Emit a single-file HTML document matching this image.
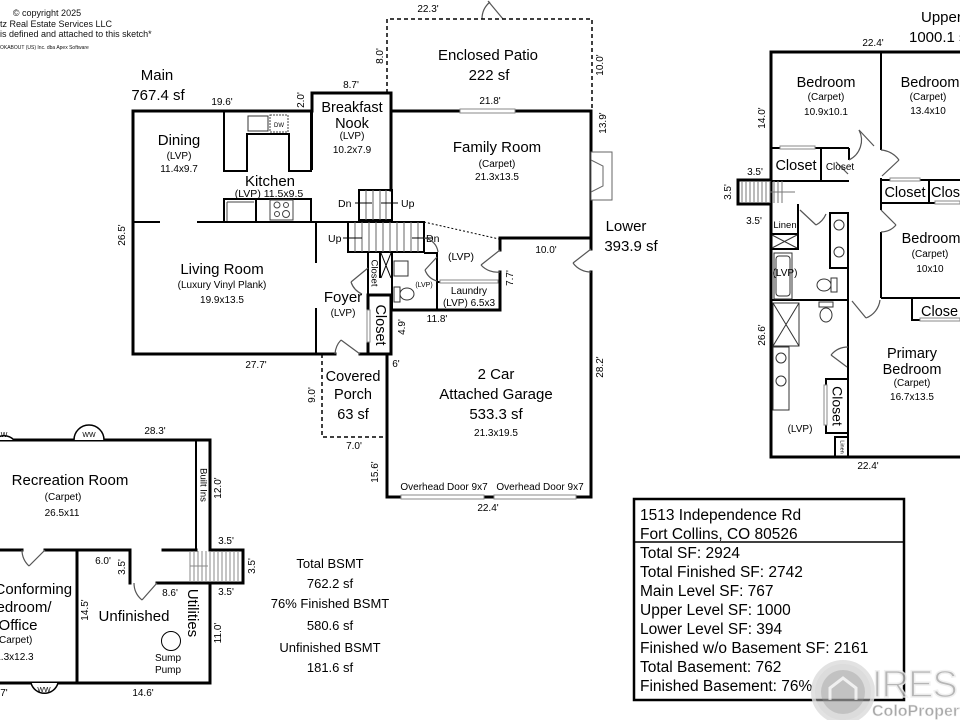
<!DOCTYPE html>
<html><head><meta charset="utf-8"><style>
html,body{margin:0;padding:0;background:#fff;}
svg{display:block;font-family:"Liberation Sans",Arial,sans-serif;}
</style></head><body>
<svg width="960" height="720" viewBox="0 0 960 720" xmlns="http://www.w3.org/2000/svg">
<rect width="960" height="720" fill="#fff"/>

<!-- copyright -->
<g fill="#111">
<text x="47" y="16" font-size="9" text-anchor="middle">© copyright 2025</text>
<text x="0" y="27" font-size="9">tz Real Estate Services LLC</text>
<text x="0" y="37" font-size="9">is defined and attached to this sketch*</text>
<text x="0" y="49" font-size="5">OKABOUT (US) Inc. dba Apex Software</text>
</g>

<!-- ============ MAIN LEVEL ============ -->
<g fill="none" stroke="#000" stroke-width="3" stroke-linecap="square">
<path d="M133,354 L133,111 L312,111 L312,93 L391,93 L391,190"/>
<path d="M391,111 L591,111 L591,249"/>
<path d="M591,272 L591,497 L387,497 L387,354"/>
<path d="M500,238 L591,238"/>
<path d="M500,238 L500,250"/>
<path d="M500,272 L500,310 L391,310"/>
<rect x="368" y="295" width="23" height="59"/>
<path d="M133,354 L335,354 M360,354 L368,354"/>
</g>
<g fill="none" stroke="#000" stroke-width="2">
<path d="M312,93 L312,170"/>
<path d="M133,222 L160,222 M197,222 L348,222"/>
<path d="M316,222 L316,263 M316,308 L316,354"/>
<!-- kitchen upper cabinets -->
<path d="M224,111 L224,171 L247,171 L247,134 L289,134 L289,171 L311,171 L311,111"/>
<!-- lower counter -->
<path d="M224,222 L224,199 L311,199 L311,222 M256,199 L256,222"/>
<!-- small stair -->
<rect x="359" y="190" width="33" height="30"/>
<!-- lower stair -->
<rect x="348" y="222" width="76" height="30"/>
<path d="M368,252 L368,295 M380,252 L380,278 M392,252 L392,310 M424,253 L437,253 L437,282 L500,282 M437,282 L437,310"/>
</g>
<!-- stair treads -->
<g stroke="#666" stroke-width="1">
<path d="M366,190V220 M373,190V220 M380,190V220 M386,190V220"/>
<path d="M355,222V252 M362,222V252 M369,222V252 M376,222V252 M383,222V252 M390,222V252 M397,222V252 M404,222V252 M411,222V252 M418,222V252"/>
</g>
<!-- stair arrows -->
<g stroke="#000" stroke-width="1" fill="none">
<path d="M355,203 L372,203 M398,203 L381,203 M343,238 L362,238 M432,238 L412,238"/>
</g>
<g fill="#000" font-size="10.5">
<text x="338" y="207">Dn</text>
<text x="401" y="207">Up</text>
<text x="328" y="242">Up</text>
<text x="426" y="242">Dn</text>
</g>
<!-- dotted -->
<path d="M424,222 L499,239" stroke="#000" stroke-width="1" stroke-dasharray="2,2"/>
<!-- X under stairs -->
<path d="M381,253 L391,278 M391,253 L381,278" stroke="#000" stroke-width="1"/>
<!-- sink, toilet -->
<rect x="394" y="261" width="14" height="15" fill="none" stroke="#333" stroke-width="1"/>
<rect x="394" y="287" width="6" height="15" fill="none" stroke="#333" stroke-width="1"/>
<ellipse cx="407" cy="294" rx="7" ry="6" fill="none" stroke="#333" stroke-width="1"/>
<!-- kitchen sink & DW -->
<rect x="248" y="116" width="20" height="15" fill="none" stroke="#333" stroke-width="1"/>
<rect x="270" y="115" width="18" height="17" fill="none" stroke="#444" stroke-width="1" stroke-dasharray="2,1"/>
<text x="279" y="127" font-size="6" text-anchor="middle">DW</text>
<!-- range -->
<rect x="270" y="200" width="23" height="20" fill="none" stroke="#444" stroke-width="1"/>
<circle cx="277" cy="205" r="3" fill="none" stroke="#444"/><circle cx="286" cy="205" r="2.5" fill="none" stroke="#444"/>
<circle cx="277" cy="214" r="2.5" fill="none" stroke="#444"/><circle cx="286" cy="214" r="3.5" fill="none" stroke="#444"/>
<path d="M227,202 L254,202 M227,202 L227,221" stroke="#444" stroke-width="1" fill="none"/>
<!-- window family -->
<rect x="460" y="109" width="55" height="4" fill="#fff" stroke="#888" stroke-width="1"/>
<!-- fireplace -->
<rect x="591" y="152" width="21" height="48" fill="#fff" stroke="#666" stroke-width="1"/>
<path d="M591,160 L603,166 L603,186 L591,192" fill="none" stroke="#666" stroke-width="1"/>
<!-- closet sliding -->
<rect x="367" y="310" width="3" height="32" fill="#fff" stroke="#888" stroke-width="1"/>
<!-- laundry sliding -->
<rect x="440" y="280" width="58" height="3" fill="#fff" stroke="#888" stroke-width="1"/>
<!-- doors main -->
<g fill="none" stroke="#555" stroke-width="1.2">
<path d="M360,354 L341,340"/><path d="M341,340 A22,22 0 0 0 335,354"/>
<path d="M368,268 L351,282"/><path d="M351,282 A20,20 0 0 0 362,294"/>
<path d="M437,257 L425,270"/><path d="M425,270 A18,18 0 0 0 437,281"/>
<path d="M500,250 L481,265"/><path d="M481,265 A22,22 0 0 0 500,272"/>
<path d="M591,249 L573,263"/><path d="M573,263 A22,22 0 0 0 591,272"/>
<path d="M424,238 A16,16 0 0 1 438,252"/>
<path d="M503,19 L488,1"/><path d="M482,19 A22,22 0 0 1 490,2"/>
</g>
<!-- patio dashed -->
<path d="M387,93 L387,19 L592,19 L592,111" fill="none" stroke="#000" stroke-width="1.5" stroke-dasharray="4,3"/>
<!-- porch dashed -->
<path d="M322,354 L322,437 L387,437" fill="none" stroke="#000" stroke-width="1.5" stroke-dasharray="4,3"/>
<!-- overhead doors -->
<rect x="401" y="495" width="83" height="4" fill="#fff" stroke="#888" stroke-width="1"/>
<rect x="494" y="495" width="82" height="4" fill="#fff" stroke="#888" stroke-width="1"/>

<!-- main labels -->
<g fill="#000" text-anchor="middle">
<text x="157" y="80" font-size="15">Main</text>
<text x="158" y="100" font-size="15">767.4 sf</text>
<text x="488" y="60" font-size="15">Enclosed Patio</text>
<text x="489" y="80" font-size="15">222 sf</text>
<text x="352" y="112" font-size="14.5">Breakfast</text>
<text x="352" y="128" font-size="14.5">Nook</text>
<text x="352" y="139" font-size="10">(LVP)</text>
<text x="352" y="153" font-size="10">10.2x7.9</text>
<text x="497" y="152" font-size="15">Family Room</text>
<text x="497" y="167" font-size="10">(Carpet)</text>
<text x="497" y="180" font-size="10">21.3x13.5</text>
<text x="179" y="145" font-size="15">Dining</text>
<text x="179" y="159" font-size="10">(LVP)</text>
<text x="179" y="172" font-size="10">11.4x9.7</text>
<text x="270" y="186" font-size="15">Kitchen</text>
<text x="269" y="197" font-size="10.5">(LVP) 11.5x9.5</text>
<text x="222" y="274" font-size="15">Living Room</text>
<text x="222" y="288" font-size="10">(Luxury Vinyl Plank)</text>
<text x="222" y="303" font-size="10">19.9x13.5</text>
<text x="343" y="302" font-size="15">Foyer</text>
<text x="343" y="316" font-size="10">(LVP)</text>
<text x="461" y="260" font-size="10.5">(LVP)</text>
<text x="424" y="287" font-size="7">(LVP)</text>
<text x="469" y="294" font-size="10">Laundry</text>
<text x="469" y="306" font-size="10">(LVP) 6.5x3</text>
<text x="353" y="381" font-size="14.5">Covered</text>
<text x="353" y="399" font-size="14.5">Porch</text>
<text x="353" y="419" font-size="14.5">63 sf</text>
<text x="496" y="379" font-size="15">2 Car</text>
<text x="496" y="399" font-size="15">Attached Garage</text>
<text x="496" y="419" font-size="15">533.3 sf</text>
<text x="496" y="436" font-size="10">21.3x19.5</text>
<text x="444" y="490" font-size="10">Overhead Door 9x7</text>
<text x="540" y="490" font-size="10">Overhead Door 9x7</text>
<text x="626" y="231" font-size="15">Lower</text>
<text x="631" y="251" font-size="15">393.9 sf</text>
</g>
<!-- vertical texts main -->
<g fill="#000" text-anchor="middle">
<text transform="translate(374,273) rotate(90)" font-size="9.5" dominant-baseline="middle">Closet</text>
<text transform="translate(380,325) rotate(90)" font-size="14.5" dominant-baseline="middle">Closet</text>
</g>
<!-- dims main -->
<g fill="#000" font-size="10" text-anchor="middle">
<text x="222" y="105">19.6'</text>
<text x="351" y="88">8.7'</text>
<text x="428" y="12">22.3'</text>
<text x="490" y="104">21.8'</text>
<text x="546" y="253">10.0'</text>
<text x="437" y="322">11.8'</text>
<text x="396" y="367">6'</text>
<text x="256" y="368">27.7'</text>
<text x="354" y="449">7.0'</text>
<text x="488" y="511">22.4'</text>
<text transform="translate(125,235) rotate(-90)">26.5'</text>
<text transform="translate(304,100) rotate(-90)">2.0'</text>
<text transform="translate(383,56) rotate(-90)">8.0'</text>
<text transform="translate(603,65) rotate(-90)">10.0'</text>
<text transform="translate(606,123) rotate(-90)">13.9'</text>
<text transform="translate(513,278) rotate(-90)">7.7'</text>
<text transform="translate(405,327) rotate(-90)">4.9'</text>
<text transform="translate(315,395) rotate(-90)">9.0'</text>
<text transform="translate(603,367) rotate(-90)">28.2'</text>
<text transform="translate(378,472) rotate(-90)">15.6'</text>
</g>

<!-- ============ UPPER LEVEL ============ -->
<g fill="none" stroke="#000" stroke-width="3" stroke-linecap="square">
<path d="M960,52 L771,52 L771,180 M771,204 L771,457 L960,457"/>
<rect x="738" y="180" width="33" height="24"/>
</g>
<g fill="none" stroke="#000" stroke-width="2">
<path d="M771,148 L849,148 M771,181 L849,181 M821,148 L821,181 M849,148 L849,160"/>
<path d="M881,52 L881,150 M881,178 L881,210 M881,232 L881,298"/>
<path d="M881,180 L960,180 M881,203 L960,203 M929,180 L929,203"/>
<path d="M771,234 L798,234 L798,204 M771,249 L798,249 L798,234"/>
<rect x="830" y="213" width="18" height="55"/>
<path d="M848,268 L848,300"/>
<path d="M771,300 L848,300 M881,298 L960,298"/>
<path d="M848,300 L848,457"/>
<path d="M912,298 L912,320 L960,320"/>
<rect x="826" y="379" width="22" height="54"/>
<rect x="835" y="437" width="13" height="20"/>
</g>
<g fill="none" stroke="#333" stroke-width="1">
<rect x="773" y="303" width="26" height="43"/>
<path d="M773,303 L799,346 M799,303 L773,346"/>
<rect x="773" y="347" width="16" height="63"/>
<circle cx="781" cy="358" r="5"/><circle cx="781" cy="381" r="5"/>
<rect x="774" y="253" width="18" height="46"/>
<rect x="776" y="256" width="14" height="40" rx="3"/>
<path d="M772,235 L797,248 M797,235 L772,248"/>
<circle cx="839" cy="225" r="5"/><circle cx="839" cy="252" r="5"/>
<ellipse cx="824" cy="285" rx="7" ry="6"/><rect x="831" y="278" width="6" height="14"/>
<ellipse cx="826" cy="315" rx="6" ry="7"/><rect x="819" y="302" width="14" height="5"/>
</g>
<!-- upper stair treads -->
<g stroke="#777" stroke-width="1">
<path d="M742,181V203 M746,181V203 M750,181V203 M754,181V203 M758,181V203 M762,181V203 M766,181V203 M770,181V203 M774,181V203 M778,181V203 M782,181V203"/>
<path d="M770,192 L795,192"/>
</g>
<!-- upper sliding doors -->
<g fill="#fff" stroke="#888" stroke-width="1">
<rect x="780" y="146" width="35" height="3"/>
<rect x="890" y="178" width="30" height="3"/>
<rect x="935" y="201" width="25" height="3"/>
<rect x="920" y="318" width="40" height="3"/>
<rect x="824" y="385" width="3" height="40"/>
</g>
<!-- upper doors -->
<g fill="none" stroke="#555" stroke-width="1.2">
<path d="M859,130 L874,146"/><path d="M859,130 A22,22 0 0 1 849,160"/>
<path d="M882,176 L899,160"/><path d="M881,150 A25,25 0 0 1 899,160"/>
<path d="M881,210 L896,225"/><path d="M896,225 A20,20 0 0 1 881,232"/>
<path d="M848,174 L836,162"/>
<path d="M800,210 L816,225"/><path d="M816,225 A22,22 0 0 0 826,214"/>
<path d="M852,301 L866,318"/><path d="M866,318 A22,22 0 0 0 880,300"/>
<path d="M847,367 L831,355"/><path d="M831,355 A22,22 0 0 1 848,347"/>
</g>
<!-- upper labels -->
<g fill="#000" text-anchor="middle">
<text x="921" y="22" font-size="15" text-anchor="start">Upper</text>
<text x="909" y="42" font-size="15" text-anchor="start">1000.1 sf</text>
<text x="826" y="87" font-size="14.5">Bedroom</text>
<text x="826" y="100" font-size="10">(Carpet)</text>
<text x="826" y="115" font-size="10">10.9x10.1</text>
<text x="930" y="87" font-size="14.5">Bedroom</text>
<text x="928" y="100" font-size="10">(Carpet)</text>
<text x="928" y="114" font-size="10">13.4x10</text>
<text x="931" y="243" font-size="14.5">Bedroom</text>
<text x="930" y="257" font-size="10">(Carpet)</text>
<text x="930" y="272" font-size="10">10x10</text>
<text x="796" y="170" font-size="14.5">Closet</text>
<text x="840" y="170" font-size="10">Closet</text>
<text x="905" y="197" font-size="14.5">Closet</text>
<text x="931" y="197" font-size="14.5" text-anchor="start">Clos</text>
<text x="921" y="316" font-size="14.5" text-anchor="start">Close</text>
<text x="785" y="228" font-size="9.5">Linen</text>
<text x="785" y="276" font-size="10">(LVP)</text>
<text x="912" y="358" font-size="14.5">Primary</text>
<text x="912" y="374" font-size="14.5">Bedroom</text>
<text x="912" y="386" font-size="10">(Carpet)</text>
<text x="912" y="400" font-size="10">16.7x13.5</text>
<text x="800" y="432" font-size="10">(LVP)</text>
<text transform="translate(836,406) rotate(90)" font-size="14" dominant-baseline="middle">Closet</text>
<text transform="translate(842,447) rotate(90)" font-size="5.5" dominant-baseline="middle">Linen</text>
</g>
<g fill="#000" font-size="10" text-anchor="middle">
<text x="873" y="46">22.4'</text>
<text x="755" y="175">3.5'</text>
<text x="754" y="224">3.5'</text>
<text x="868" y="469">22.4'</text>
<text transform="translate(765,118) rotate(-90)">14.0'</text>
<text transform="translate(731,192) rotate(-90)">3.5'</text>
<text transform="translate(765,335) rotate(-90)">26.6'</text>
</g>

<!-- ============ BASEMENT ============ -->
<g fill="none" stroke="#000" stroke-width="3" stroke-linecap="square">
<path d="M0,440 L210,440 L210,550 L243,550 L243,583 L210,583 L210,683 L0,683"/>
<path d="M0,550 L22,550 M45,550 L130,550 L130,583 M163,550 L196,550"/>
<path d="M77,550 L77,683"/>
<path d="M157,583 L210,583"/>
</g>
<path d="M196,440 L196,550" stroke="#000" stroke-width="2"/>
<g stroke="#888" stroke-width="1">
<path d="M190,551V582 M194,551V582 M198,551V582 M202,551V582 M206,551V582 M210,551V582 M214,551V582 M218,551V582 M222,551V582 M226,551V582 M230,551V582 M234,551V582 M238,551V582"/>
<path d="M190,566 L208,566"/>
</g>
<g fill="none" stroke="#555" stroke-width="1.2">
<path d="M45,550 L29,566"/><path d="M29,566 A22,22 0 0 1 22,550"/>
<path d="M157,583 L142,600"/><path d="M142,600 A22,22 0 0 1 134,583"/>
</g>
<!-- WW -->
<g fill="#fff" stroke="#000" stroke-width="1.5">
<path d="M-6,440 A14,14 0 0 1 14,440"/>
<path d="M74,440 A14,14 0 0 1 104,440"/>
<path d="M31,683 A14,14 0 0 0 58,683"/>
</g>
<g fill="#000" font-size="7" text-anchor="middle">
<text x="4" y="437">W</text>
<text x="89" y="437">WW</text>
<text x="44" y="692">WW</text>
</g>
<circle cx="171" cy="641" r="9.5" fill="none" stroke="#000" stroke-width="1"/>
<g fill="#000" text-anchor="middle">
<text x="70" y="485" font-size="15">Recreation Room</text>
<text x="63" y="500" font-size="10">(Carpet)</text>
<text x="62" y="516" font-size="10">26.5x11</text>
<text x="17" y="594" font-size="15">Non-Conforming</text>
<text x="19" y="612" font-size="15">Bedroom/</text>
<text x="18" y="630" font-size="15">Office</text>
<text x="14" y="643" font-size="10">(Carpet)</text>
<text x="12" y="660" font-size="10">11.3x12.3</text>
<text x="134" y="621" font-size="15">Unfinished</text>
<text x="168" y="661" font-size="10">Sump</text>
<text x="168" y="673" font-size="10">Pump</text>
<text transform="translate(203,485) rotate(90)" font-size="9.5" dominant-baseline="middle">Built Ins</text>
<text transform="translate(192,613) rotate(90)" font-size="15" dominant-baseline="middle">Utilities</text>
</g>
<g fill="#000" font-size="10" text-anchor="middle">
<text x="155" y="434">28.3'</text>
<text x="226" y="544">3.5'</text>
<text x="226" y="595">3.5'</text>
<text x="103" y="564">6.0'</text>
<text x="170" y="596">8.6'</text>
<text x="143" y="696">14.6'</text>
<text x="4" y="696">7'</text>
<text transform="translate(221,488) rotate(-90)">12.0'</text>
<text transform="translate(255,566) rotate(-90)">3.5'</text>
<text transform="translate(125,567) rotate(-90)">3.5'</text>
<text transform="translate(221,633) rotate(-90)">11.0'</text>
<text transform="translate(88,610) rotate(-90)">14.5'</text>
</g>
<g fill="#000" font-size="13" text-anchor="middle">
<text x="330" y="568">Total BSMT</text>
<text x="330" y="588">762.2 sf</text>
<text x="330" y="608">76% Finished BSMT</text>
<text x="330" y="630">580.6 sf</text>
<text x="330" y="652">Unfinished BSMT</text>
<text x="330" y="672">181.6 sf</text>
</g>

<!-- info box -->
<rect x="634" y="499" width="270" height="201" fill="#fff" stroke="#000" stroke-width="2.5"/>
<line x1="634" y1="542" x2="904" y2="542" stroke="#000" stroke-width="1.5"/>
<g fill="#000" font-size="15.5">
<text x="640" y="520">1513 Independence Rd</text>
<text x="640" y="539">Fort Collins, CO 80526</text>
<text x="640" y="558">Total SF: 2924</text>
<text x="640" y="577">Total Finished SF: 2742</text>
<text x="640" y="596">Main Level SF: 767</text>
<text x="640" y="615">Upper Level SF: 1000</text>
<text x="640" y="634">Lower Level SF: 394</text>
<text x="640" y="653">Finished w/o Basement SF: 2161</text>
<text x="640" y="672">Total Basement: 762</text>
<text x="640" y="691">Finished Basement: 76%</text>
</g>

<!-- watermark -->
<g opacity="0.85">
<circle cx="843" cy="692" r="30" fill="#bbb" fill-opacity="0.6" stroke="#ddd" stroke-width="4"/>
<circle cx="843" cy="692" r="22" fill="#999" fill-opacity="0.5"/>
<path d="M830,700 L830,688 L843,678 L856,688 L856,700" fill="none" stroke="#eee" stroke-width="3"/>
<text x="872" y="697" font-size="38" fill="#aaa" stroke="#eee" stroke-width="1.5" letter-spacing="-1">IRES</text>
<text x="872" y="716" font-size="16" font-weight="bold" fill="#999" stroke="#eee" stroke-width="0.6">ColoProperty</text>
</g>
</svg>
</body></html>
